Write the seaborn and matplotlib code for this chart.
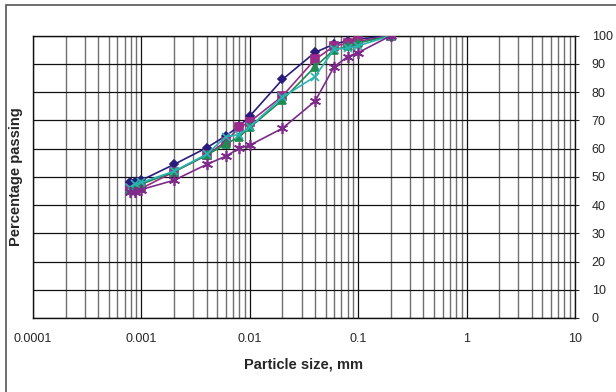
import numpy as np
import pandas as pd
import matplotlib
matplotlib.use("Agg")
import matplotlib.pyplot as plt
import seaborn as sns
from matplotlib.patches import Rectangle
from matplotlib.ticker import LogLocator, FixedLocator, NullFormatter

sns.set_style("white")
plt.rcParams['font.family'] = ['Liberation Sans', 'DejaVu Sans']

# -----------------------------------------------------------------
# DATA
# -----------------------------------------------------------------
size_mm = [0.00078, 0.00088, 0.001, 0.002, 0.004, 0.006, 0.008, 0.01,
           0.02, 0.04, 0.06, 0.08, 0.1, 0.2]
pass_blue = [48.3, 48.0, 48.8, 54.4, 60.3, 64.5, 68.0, 71.5, 84.5, 94.1, 97.0, 98.2, 98.8, 100]
pass_magenta = [45.3, 45.5, 45.9, 51.8, 57.7, 62.5, 67.5, 69.5, 78.6, 91.6, 96.3, 97.3, 98.0, 100]
pass_green = [45.3, 46.5, 47.4, 51.8, 57.7, 61.6, 64.2, 67.5, 77.2, 89.0, 95.0, 96.3, 97.4, 100]
pass_cyan = [46.0, 47.5, 48.0, 52.0, 58.0, 64.2, 65.0, 67.7, 78.2, 85.5, 95.2, 95.6, 96.4, 100]
pass_purple = [44.7, 44.7, 45.5, 48.8, 54.4, 57.3, 60.1, 61.2, 67.2, 76.8, 89.0, 92.6, 94.0, 100]

series = {
    's1': pass_blue, 's2': pass_magenta, 's3': pass_green,
    's4': pass_cyan, 's5': pass_purple,
}
colors = {'s1': '#2b1c7c', 's2': '#9c2a88', 's3': '#1f8a52',
          's4': '#2ab3b3', 's5': '#7e2a8a'}
markers = {'s1': 'D', 's2': 's', 's3': '^', 's4': 'x', 's5': (6, 2, 0)}
msizes = {'s1': 4.5, 's2': 5.5, 's3': 5.5, 's4': 5.5, 's5': 8}

df = pd.concat([pd.DataFrame({'size': size_mm, 'passing': v, 'series': k})
                for k, v in series.items()], ignore_index=True)

# -----------------------------------------------------------------
# FIGURE
# -----------------------------------------------------------------
fig = plt.figure(figsize=(6.16, 3.92), dpi=100)
ax = fig.add_axes([33 / 616, 1 - 318 / 392, (575 - 33) / 616, (318 - 35.7) / 392])

for k in series:
    sub = df[df['series'] == k]
    sns.lineplot(data=sub, x='size', y='passing', color=colors[k], marker=markers[k],
                 markersize=msizes[k], markeredgecolor=colors[k], markeredgewidth=1.2,
                 linewidth=1.2, ax=ax, legend=False, zorder=3)

ax.set_xscale('log')
ax.set_xlim(0.0001, 10)
ax.set_ylim(0, 100)

ax.xaxis.set_major_locator(FixedLocator([0.0001, 0.001, 0.01, 0.1, 1, 10]))
ax.set_xticklabels(['0.0001', '0.001', '0.01', '0.1', '1', '10'])
ax.xaxis.set_minor_locator(LogLocator(base=10, subs=np.arange(2, 10)))
ax.xaxis.set_minor_formatter(NullFormatter())
ax.set_yticks(np.arange(0, 101, 10))

ax.grid(True, which='major', axis='both', color='#111111', linewidth=0.9)
ax.grid(True, which='minor', axis='x', color='#707070', linewidth=1.0)
ax.set_axisbelow(True)

ax.yaxis.tick_right()
ax.tick_params(axis='y', which='both', left=False, right=True, length=3,
               labelsize=9, pad=9)
ax.tick_params(axis='x', which='major', labelsize=9, length=0, pad=11)
ax.tick_params(axis='x', which='minor', length=0)

for s in ax.spines.values():
    s.set_color('#111111')
    s.set_linewidth(1.0)

ax.set_xlabel('Particle size, mm', fontsize=10.5, fontweight='bold', labelpad=9)
ax.yaxis.set_label_position('left')
ax.set_ylabel('Percentage passing', fontsize=10.5, fontweight='bold', labelpad=7)

# outer chart-area border
fig.patches.append(Rectangle((6 / 616, -0.05), 1.2, 1 - 5 / 392 + 0.05,
                             transform=fig.transFigure, fill=False,
                             edgecolor='#555555', linewidth=1.2))

fig.savefig('out.png', dpi=100)
